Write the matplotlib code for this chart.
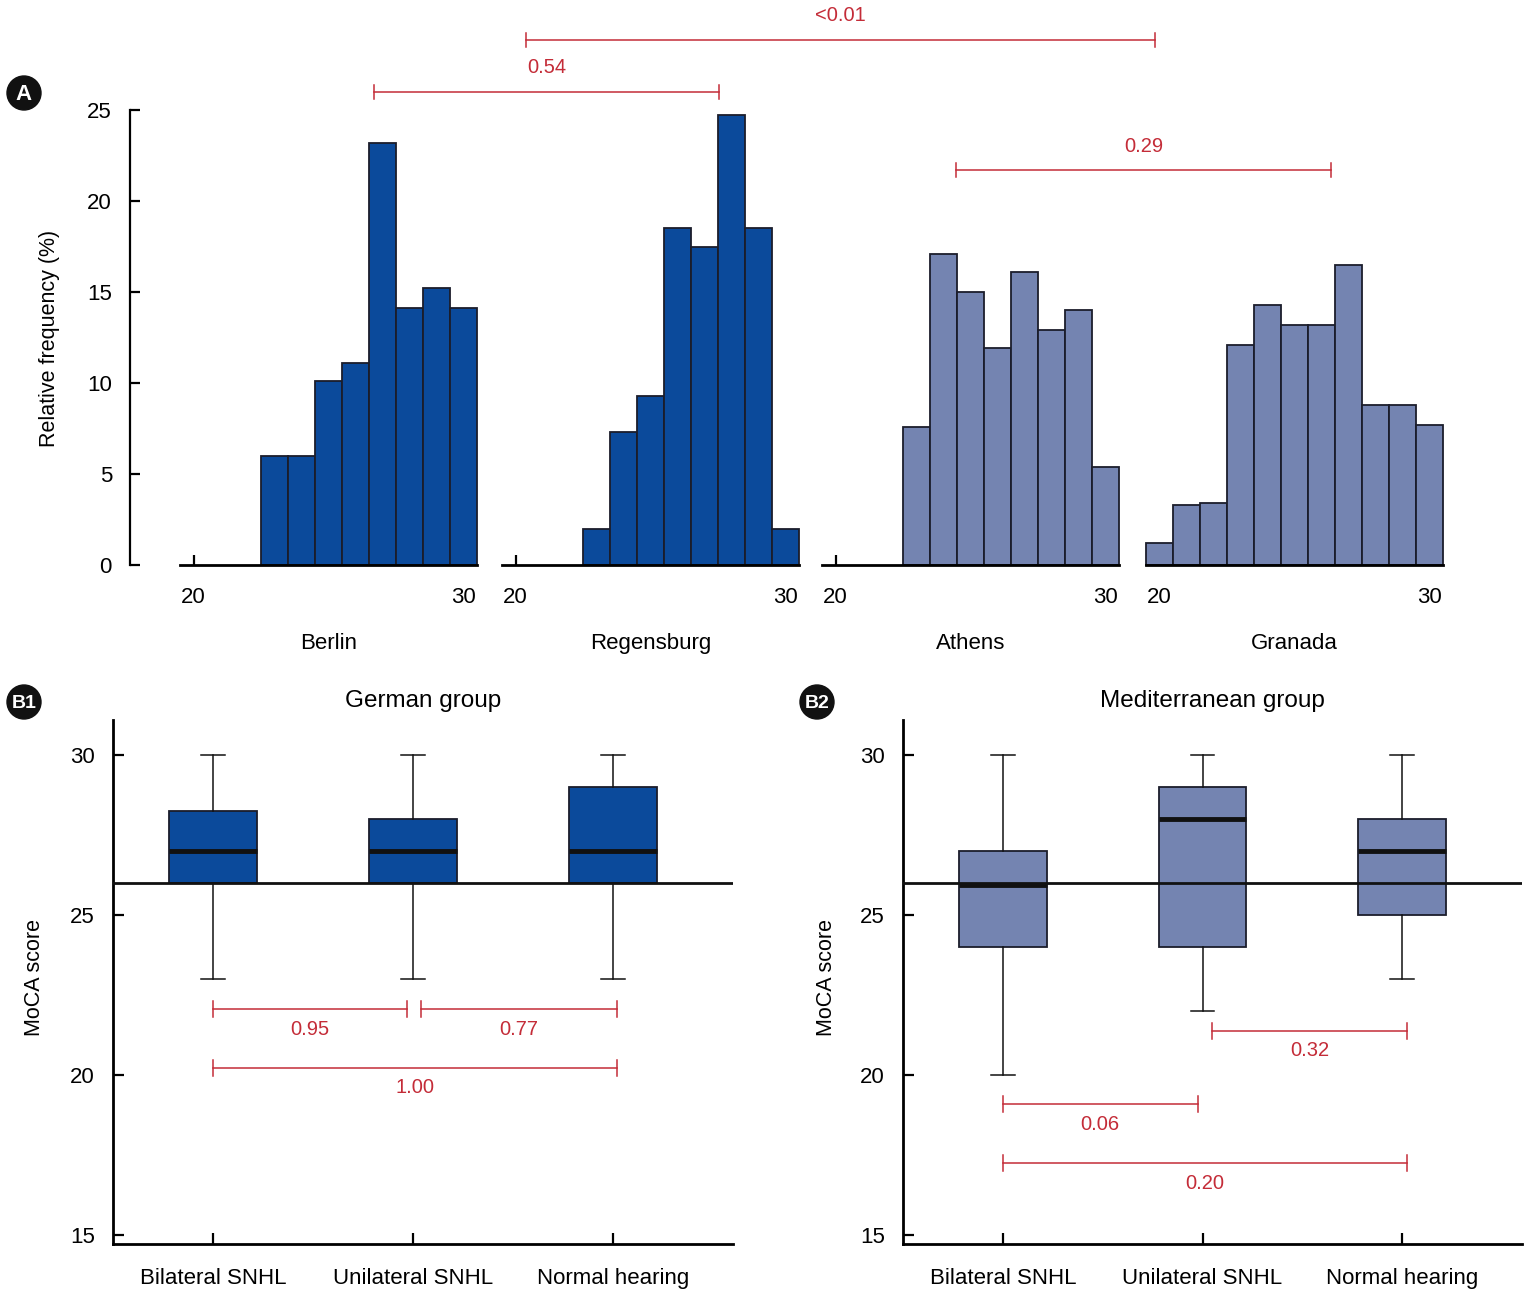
import matplotlib
matplotlib.use('Agg')
import matplotlib.pyplot as plt
from matplotlib.patches import Circle

plt.rcParams['font.family'] = ['Liberation Sans', 'DejaVu Sans']

W, H, DPI = 1533, 1297, 100

# ---- panel A: relative frequency (%) of MoCA scores per centre
cities = ['Berlin', 'Regensburg', 'Athens', 'Granada']
scores_berlin = [23, 24, 25, 26, 27, 28, 29, 30]
freq_berlin = [6.0, 6.0, 10.1, 11.1, 23.2, 14.1, 15.2, 14.1]
scores_regensburg = [23, 24, 25, 26, 27, 28, 29, 30]
freq_regensburg = [2.0, 7.3, 9.3, 18.5, 17.5, 24.7, 18.5, 2.0]
scores_athens = [23, 24, 25, 26, 27, 28, 29, 30]
freq_athens = [7.6, 17.1, 15.0, 11.9, 16.1, 12.9, 14.0, 5.4]
scores_granada = [20, 21, 22, 23, 24, 25, 26, 27, 28, 29, 30]
freq_granada = [1.2, 3.3, 3.4, 12.1, 14.3, 13.2, 13.2, 16.5, 8.8, 8.8, 7.7]

# ---- panel B: box plot summaries of MoCA score
hearing_groups = ['Bilateral SNHL', 'Unilateral SNHL', 'Normal hearing']
german_lo = [23, 23, 23]
german_q1 = [26, 26, 26]
german_med = [27, 27, 27]
german_q3 = [28.25, 28, 29]
german_hi = [30, 30, 30]
medit_lo = [20, 22, 23]
medit_q1 = [24, 24, 25]
medit_med = [25.95, 28, 27]
medit_q3 = [27, 29, 28]
medit_hi = [30, 30, 30]
cutoff = 26

# p-values: (left centre, x, right centre, x, height, label)
p_city = [(0, 26.7, 1, 27.53, 26.0, '0.54'),
          (1, 20.38, 3, 19.82, 28.85, '<0.01'),
          (2, 24.47, 3, 26.35, 21.7, '0.29')]
p_german = [(1.0, 1.97, 22.06, '0.95'),
            (2.04, 3.02, 22.06, '0.77'),
            (1.0, 3.02, 20.22, '1.00')]
p_medit = [(1.0, 1.975, 19.09, '0.06'),
           (2.045, 3.025, 21.375, '0.32'),
           (1.0, 3.025, 17.25, '0.20')]

GERMAN = '#0b4a9b'
MEDIT = '#7484b1'
EDGE = '#1b1d2b'
RED = '#c42c38'
FS = 16


def px_axes(left, top, right, bottom):
    return fig.add_axes([left / W, 1 - bottom / H, (right - left) / W, (bottom - top) / H])


fig = plt.figure(figsize=(W / DPI, H / DPI), dpi=DPI)

# shared y axis of panel A
ax_y = px_axes(130, 110, 1443, 565)
ax_y.set_ylim(0, 25)
ax_y.set_yticks([0, 5, 10, 15, 20, 25])
ax_y.set_xticks([])
for s in ['top', 'right', 'bottom']:
    ax_y.spines[s].set_visible(False)
ax_y.spines['left'].set_linewidth(1.6)
ax_y.tick_params(axis='y', direction='in', length=7, width=1.6, labelsize=FS, pad=13)
ax_y.patch.set_alpha(0)

hist_data = [(scores_berlin, freq_berlin, GERMAN), (scores_regensburg, freq_regensburg, GERMAN),
             (scores_athens, freq_athens, MEDIT), (scores_granada, freq_granada, MEDIT)]
hist_left = [180, 502, 822, 1146]
hist_axes = []
for i, (sc, fr, col) in enumerate(hist_data):
    ax = px_axes(hist_left[i], 110, hist_left[i] + 297, 565)
    ax.bar(sc, fr, width=1.0, color=col, edgecolor=EDGE, linewidth=1.3, clip_on=False, zorder=2)
    ax.set_xlim(19.5, 30.5)
    ax.set_ylim(0, 25)
    ax.set_xticks([20, 30])
    ax.set_yticks([])
    for s in ['top', 'right', 'left']:
        ax.spines[s].set_visible(False)
    ax.spines['bottom'].set_linewidth(2)
    ax.tick_params(axis='x', direction='in', length=7, width=1.6, labelsize=FS, pad=16)
    ax.set_xlabel(cities[i], fontsize=FS, labelpad=18)
    ax.patch.set_alpha(0)
    hist_axes.append(ax)


def box_panel(left, right, lo, q1, med, q3, hi, color, title):
    ax = px_axes(left, 720, right, 1244)
    stats = [dict(whislo=lo[i], q1=q1[i], med=med[i], q3=q3[i], whishi=hi[i], fliers=[])
             for i in range(len(hearing_groups))]
    ax.bxp(stats, positions=[1, 2, 3], widths=0.44, patch_artist=True, capwidths=0.12,
           boxprops=dict(facecolor=color, edgecolor=EDGE, linewidth=1.3),
           medianprops=dict(color='#111111', linewidth=3.5),
           whiskerprops=dict(color='#111111', linewidth=1.1),
           capprops=dict(color='#111111', linewidth=1.1))
    ax.axhline(cutoff, color='#111111', linewidth=2, zorder=4)
    ax.set_xlim(0.5, 3.6)
    ax.set_ylim(14.72, 31.09)
    ax.set_yticks([15, 20, 25, 30])
    ax.set_xticks([1, 2, 3])
    ax.set_xticklabels(hearing_groups)
    for s in ['top', 'right']:
        ax.spines[s].set_visible(False)
    for s in ['left', 'bottom']:
        ax.spines[s].set_linewidth(2)
    ax.tick_params(direction='in', length=8, width=1.6, labelsize=FS, pad=13)
    ax.tick_params(axis='x', pad=17)
    ax.set_title(title, fontsize=17.5, pad=9)
    return ax


ax_b1 = box_panel(113, 733, german_lo, german_q1, german_med, german_q3, german_hi, GERMAN, 'German group')
ax_b2 = box_panel(903, 1522, medit_lo, medit_q1, medit_med, medit_q3, medit_hi, MEDIT, 'Mediterranean group')

# overlay in pixel units for annotations
ov = fig.add_axes([0, 0, 1, 1], zorder=10)
ov.set_xlim(0, W)
ov.set_ylim(H, 0)
ov.axis('off')
ov.patch.set_alpha(0)


def to_px(ax, x, y):
    return ov.transData.inverted().transform(ax.transData.transform((x, y)))


def bracket(ax_a, xa, ax_b, xb, y, label, above, tick=7, offset=24):
    x1, y1 = to_px(ax_a, xa, y)
    x2, _ = to_px(ax_b, xb, y)
    ov.plot([x1, x2], [y1, y1], color=RED, lw=1.1)
    ov.plot([x1, x1], [y1 - tick, y1 + tick], color=RED, lw=1.1)
    ov.plot([x2, x2], [y1 - tick, y1 + tick], color=RED, lw=1.1)
    ty = y1 - offset if above else y1 + offset - 3
    ov.text((x1 + x2) / 2, ty, label, color=RED, fontsize=14.5, ha='center', va='center')


for ia, xa, ib, xb, y, lab in p_city:
    bracket(hist_axes[ia], xa, hist_axes[ib], xb, y, lab, True)
for xa, xb, y, lab in p_german:
    bracket(ax_b1, xa, ax_b1, xb, y, lab, False, tick=8, offset=23)
for xa, xb, y, lab in p_medit:
    bracket(ax_b2, xa, ax_b2, xb, y, lab, False, tick=8, offset=23)

# axis titles
ov.text(50, 338, 'Relative frequency (%)', rotation=90, fontsize=15.5, ha='center', va='center')
ov.text(34, 978, 'MoCA score', rotation=90, fontsize=15.5, ha='center', va='center')
ov.text(826, 978, 'MoCA score', rotation=90, fontsize=15.5, ha='center', va='center')

# panel badges
for lab, cx, cy in [('A', 24, 93), ('B1', 24, 702), ('B2', 817, 702)]:
    ov.add_patch(Circle((cx, cy), 17, color='#111111'))
    ov.text(cx, cy + 1, lab, color='white', fontsize=16 if lab == 'A' else 14,
            fontweight='bold', ha='center', va='center')

fig.savefig('out.png', dpi=DPI)
